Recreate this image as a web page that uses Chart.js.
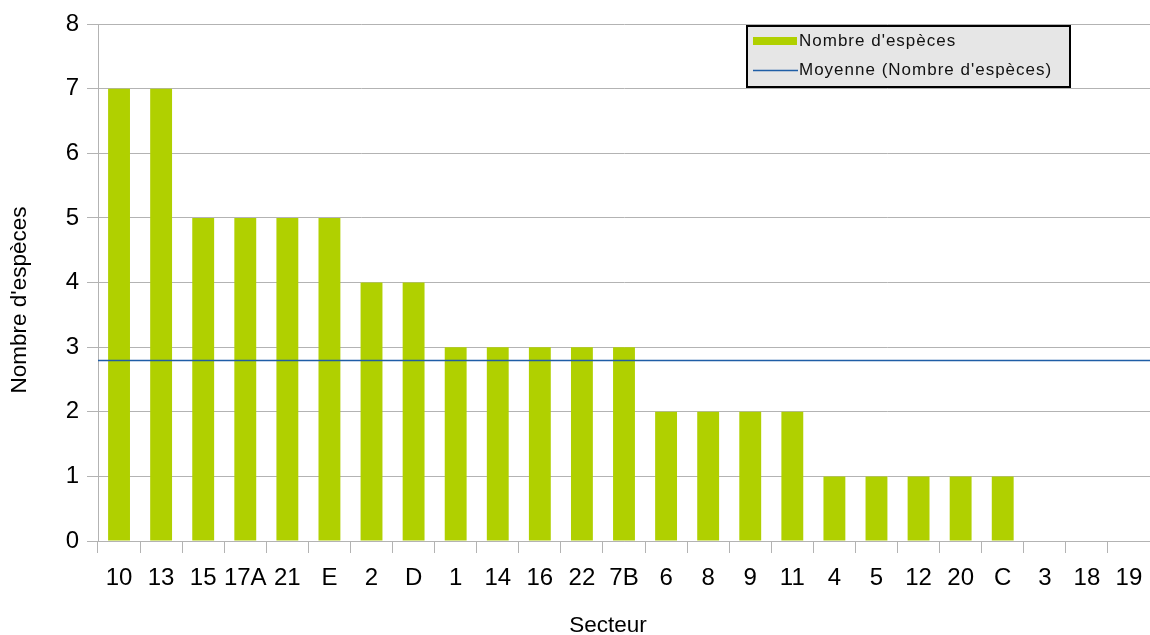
<!DOCTYPE html>
<html>
<head>
<meta charset="utf-8">
<script src="https://cdn.jsdelivr.net/npm/chart.js@4/dist/chart.umd.min.js"></script>
<style>
  html, body { margin: 0; padding: 0; background: #fff; }
  #wrap { width: 1150px; height: 635px; position: relative; }
</style>
</head>
<body>
<div id="wrap"><canvas id="graphe"></canvas></div>
<script>
// Nombre d'espèces par secteur, trié par ordre décroissant
var secteurs = ['10', '13', '15', '17A', '21', 'E', '2', 'D', '1', '14', '16', '22', '7B', '6', '8', '9', '11', '4', '5', '12', '20', 'C', '3', '18', '19'];
var nbEspeces = [7, 7, 5, 5, 5, 5, 4, 4, 3, 3, 3, 3, 3, 2, 2, 2, 2, 1, 1, 1, 1, 1, 0, 0, 0];
var ticksY = [0, 1, 2, 3, 4, 5, 6, 7, 8];

var titreX = 'Secteur';
var titreY = "Nombre d'espèces";

var VERT = '#b0d000';
var BLEU = '#1f5ea6';
var POLICE_TITRE = '22.5px "Liberation Sans", sans-serif';

var moyenne = nbEspeces.reduce(function(a, b) { return a + b; }, 0) / nbEspeces.length;

// ligne de moyenne sur toute la largeur + légende encadrée
var moyennePlugin = {
    id: 'moyenne',
    afterDatasetsDraw: function(chart) {
        var ctx = chart.ctx;
        var area = chart.chartArea;
        var y = Math.round(chart.scales.y.getPixelForValue(moyenne)) + 0.5;
        ctx.save();
        ctx.strokeStyle = BLEU;
        ctx.lineWidth = 1.3;
        ctx.beginPath();
        ctx.moveTo(area.left, y);
        ctx.lineTo(area.right, y);
        ctx.stroke();

        // légende
        var lx = area.left + 648, ly = area.top + 1, lw = 325, lh = 63;
        ctx.fillStyle = '#e6e6e6';
        ctx.fillRect(lx, ly, lw, lh);
        ctx.strokeStyle = '#000';
        ctx.lineWidth = 2;
        ctx.strokeRect(lx + 1, ly + 1, lw - 2, lh - 2);

        ctx.fillStyle = VERT;
        ctx.fillRect(lx + 7, ly + 12, 44, 8);
        ctx.strokeStyle = BLEU;
        ctx.lineWidth = 1.3;
        ctx.beginPath();
        ctx.moveTo(lx + 7, ly + 45.5);
        ctx.lineTo(lx + 52, ly + 45.5);
        ctx.stroke();

        ctx.fillStyle = '#111';
        ctx.font = '17px "Liberation Sans", sans-serif';
        ctx.letterSpacing = '1px';
        ctx.textBaseline = 'middle';
        ctx.textAlign = 'left';
        ctx.fillText(chart.data.datasets[0].label, lx + 53, ly + 16);
        ctx.fillText('Moyenne (' + chart.data.datasets[0].label + ')', lx + 53, ly + 45);
        ctx.restore();
    }
};

// titres des axes, centrés sur l'ensemble axe + étiquettes
var titresPlugin = {
    id: 'titres',
    afterDraw: function(chart) {
        var ctx = chart.ctx;
        ctx.save();
        ctx.fillStyle = '#000';
        ctx.font = POLICE_TITRE;
        ctx.textAlign = 'center';
        ctx.textBaseline = 'middle';
        ctx.fillText(titreX, 608, 626);
        ctx.translate(20, 300);
        ctx.rotate(-Math.PI / 2);
        ctx.fillText(titreY, 0, 0);
        ctx.restore();
    }
};

new Chart(document.getElementById('graphe'), {
    type: 'bar',
    data: {
        labels: secteurs,
        datasets: [{
            label: "Nombre d'espèces",
            data: nbEspeces,
            backgroundColor: VERT,
            borderWidth: 0,
            barPercentage: 0.52,
            categoryPercentage: 1.0
        }]
    },
    options: {
        responsive: true,
        maintainAspectRatio: false,
        animation: false,
        layout: { padding: { top: 24, right: 0, left: 0, bottom: 0 } },
        plugins: {
            legend: { display: false },
            tooltip: { enabled: false }
        },
        scales: {
            x: {
                offset: true,
                afterFit: function(axis) {
                    // place réservée pour le titre dessiné à part
                    axis.height = 94;
                    axis.paddingLeft = 0;
                    axis.paddingRight = 0;
                },
                grid: {
                    offset: true,
                    drawOnChartArea: false,
                    color: '#b3b3b3',
                    tickLength: 12,
                    lineWidth: 1
                },
                border: { color: '#b3b3b3' },
                ticks: {
                    color: '#000',
                    font: { family: 'Liberation Sans', size: 24, lineHeight: 1 },
                    padding: 13,
                    maxRotation: 0,
                    autoSkip: false
                }
            },
            y: {
                min: 0,
                max: 8,
                afterBuildTicks: function(axis) {
                    axis.ticks = ticksY.map(function(v) { return { value: v }; });
                },
                afterFit: function(axis) {
                    axis.width = 98;
                    axis.paddingTop = 0;
                    axis.paddingBottom = 0;
                },
                grid: {
                    color: '#b3b3b3',
                    tickLength: 11,
                    lineWidth: 1
                },
                border: { color: '#b3b3b3' },
                ticks: {
                    color: '#000',
                    font: { family: 'Liberation Sans', size: 24 },
                    padding: 8
                }
            }
        }
    },
    plugins: [moyennePlugin, titresPlugin]
});
</script>
</body>
</html>
